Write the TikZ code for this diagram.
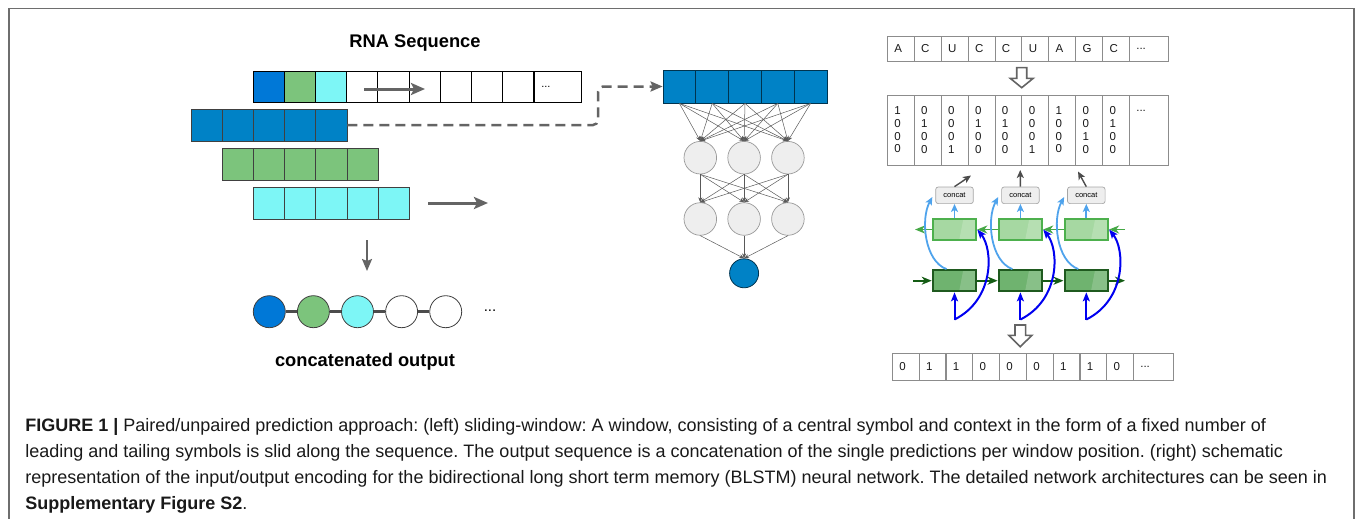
\documentclass[tikz,border=0pt]{standalone}
\usepackage{fontspec}
\setmainfont{Liberation Sans}
\usetikzlibrary{arrows.meta, positioning, calc}

\definecolor{seqblue}{HTML}{0078D7}
\definecolor{winblue}{HTML}{0082C6}
\definecolor{wingreen}{HTML}{7CC47C}
\definecolor{wincyan}{HTML}{7DF6F6}
\definecolor{arrowgray}{HTML}{646464}
\definecolor{framegray}{HTML}{6E6E6E}
\definecolor{cellgray}{HTML}{8C8C8C}
\definecolor{nodegray}{HTML}{EEEEEE}
\definecolor{fwdfill}{HTML}{6FB36F}
\definecolor{fwdline}{HTML}{1F5A1F}
\definecolor{fwdarrow}{HTML}{145C14}
\definecolor{bwdfill}{HTML}{A6D8A2}
\definecolor{bwdline}{HTML}{4DB04D}
\definecolor{bwdarrow}{HTML}{45A845}
\definecolor{skyblue}{HTML}{4FA3EC}
\definecolor{inblue}{HTML}{0000F0}

\begin{document}
\frenchspacing
\begin{tikzpicture}
            [x=1pt, y=-1pt, >={Stealth}, semithick,
            seqcell/.style={draw=black, line width=0.8pt, minimum width=31.2pt, minimum height=31pt, inner sep=0pt},
            wincell/.style={draw=black!75, line width=0.8pt, minimum width=31.2pt, minimum height=32pt, inner sep=0pt},
            outdot/.style={circle, draw=black!75, line width=0.8pt, minimum size=32pt, inner sep=0pt},
            nncell/.style={draw=black!60!winblue, fill=winblue, line width=0.8pt, minimum width=32.8pt, minimum height=33pt, inner sep=0pt},
            neuron/.style={circle, draw=black!40, fill=nodegray, line width=0.7pt, minimum size=32.6pt, inner sep=0pt},
            nnlink/.style={->, draw=black!65, line width=0.5pt, >={Stealth[length=5pt, width=4pt]}},
            slide/.style={->, draw=arrowgray, line width=3pt, >={Stealth[length=14pt, width=12pt, inset=3pt]}},
            drop/.style={->, draw=arrowgray, line width=2pt, >={Stealth[length=12pt, width=10pt, inset=2pt]}},
            chainlink/.style={draw=black!70, line width=3pt},
            dashlink/.style={->, draw=arrowgray, line width=2.5pt, dash pattern=on 10pt off 6pt, rounded corners=5pt, >={Stealth[length=12pt, width=10pt, inset=2pt]}},
            encell/.style={draw=cellgray, line width=0.8pt, minimum height=25pt, inner xsep=7pt, inner ysep=0pt, text width=12.9pt, align=left, text=black!90, font=\fontsize{11.5}{12.7}\selectfont},
            hollow/.style={draw=arrowgray, line width=1.6pt, fill=white, line join=miter},
            highlight/.style={path picture={\fill[white, opacity=0.18] ([xshift=-13pt]path picture bounding box.north east) -- (path picture bounding box.north east) -- (path picture bounding box.south east) -- ([xshift=-17pt]path picture bounding box.south east) -- cycle;}},
            bwdbox/.style={draw=bwdline, fill=bwdfill, line width=2pt, minimum width=43.6pt, minimum height=20.4pt, inner sep=0pt, highlight},
            fwdbox/.style={draw=fwdline, fill=fwdfill, line width=2.2pt, minimum width=43.4pt, minimum height=21pt, inner sep=0pt, highlight},
            concatbox/.style={draw=black!35, fill=nodegray, line width=0.7pt, rounded corners=2.5pt, minimum width=37.6pt, minimum height=16.6pt, inner sep=0pt, font=\fontsize{7.5}{9}\selectfont},
            fwdlink/.style={->, draw=fwdarrow, line width=1.8pt, >={Stealth[length=10pt, width=8pt, inset=3pt]}},
            bwdlink/.style={->, draw=bwdarrow, line width=1.8pt, >={Stealth[length=10pt, width=8pt, inset=3pt]}},
            uplink/.style={->, draw=skyblue, line width=1.8pt, >={Stealth[length=8pt, width=7pt, inset=2pt]}},
            inlink/.style={->, draw=inblue, line width=2pt, >={Stealth[length=9pt, width=7pt, inset=2pt]}},
            catlink/.style={->, draw=black!70, line width=1.4pt, >={Stealth[length=8pt, width=7pt, inset=2pt]}},
            title/.style={font=\fontsize{18.3}{22}\selectfont\bfseries},
            caption/.style={anchor=base west, inner sep=0pt, text=black!90, font=\fontsize{18}{21}\selectfont}]

            \useasboundingbox (0,0) rectangle (1357,519);
            \draw[framegray, line width=1.5pt] (9,519) -- (9,8.5) -- (1354,8.5) -- (1354,519);

            \node[title] (rna) at (415,43) {RNA Sequence};

            \foreach \i/\c in {1/seqblue, 2/wingreen, 3/wincyan, 4/white, 5/white, 6/white, 7/white, 8/white, 9/white}
                \node[seqcell, fill=\c] (s\i) at (237.4+31.2*\i, 86.5) {};
            \node[seqcell, minimum width=46.7pt, text width=32.7pt, inner xsep=7pt, align=left, font=\fontsize{11}{13}\selectfont]
                (s10) at (557.65,86.5) {...};

            \foreach \i in {1,...,5} {
                \node[wincell, fill=winblue]  (wa\i) at (175.4+31.2*\i, 125) {};
                \node[wincell, fill=wingreen] (wb\i) at (206.6+31.2*\i, 164) {};
                \node[wincell, fill=wincyan]  (wc\i) at (237.8+31.2*\i, 203) {};
            }

            \coordinate (slidea) at (364,89);
            \coordinate (slideb) at (425,89);
            \coordinate (movea)  at (428,203);
            \coordinate (moveb)  at (488,203);
            \coordinate (dropa)  at (367,240);
            \coordinate (dropb)  at (367,271);
            \draw[slide] (slidea) -- (slideb);
            \draw[slide] (movea) -- (moveb);
            \draw[drop] (dropa) -- (dropb);

            \foreach \i/\c in {1/seqblue, 2/wingreen, 3/wincyan, 4/white, 5/white}
                \node[outdot, fill=\c] (o\i) at (225.2+44.1*\i, 311.7) {};
            \path (o1) edge[chainlink] (o2)
                  (o2) edge[chainlink] (o3)
                  (o3) edge[chainlink] (o4)
                  (o4) edge[chainlink] (o5);
            \node[font=\fontsize{15}{18}\selectfont] (more) at (490,311) {...};
            \node[title] (concat) at (365,362) {concatenated output};

            \foreach \i in {1,...,5}
                \node[nncell] (n\i) at (646.6+32.8*\i, 86.5) {};
            \foreach \i in {1,2,3} {
                \node[neuron] (h\i) at (656.5+43.8*\i, 157.7) {};
                \node[neuron] (k\i) at (656.5+43.8*\i, 219) {};
            }
            \node[circle, draw=black!60!winblue, fill=winblue, line width=0.8pt, minimum size=29pt, inner sep=0pt] (y) at (744.1,273.3) {};

            \coordinate (bend) at (598,125);
            \draw[dashlink] (wa5.east) -- (bend) |- (n1.west);

            \foreach \i in {1,...,5}
                \foreach \j in {1,2,3}
                    \draw[nnlink] (n\i.south) -- (h\j.north);
            \foreach \i in {1,2,3} {
                \foreach \j in {1,2,3}
                    \draw[nnlink] (h\i.south) -- (k\j.north);
                \draw[nnlink] (k\i.south) -- (y.north);
            }

            \foreach \i/\l in {1/A, 2/C, 3/U, 4/C, 5/C, 6/U, 7/A, 8/G, 9/C}
                \node[encell] (a\i) at (873.85+26.9*\i, 48.5) {\l};
            \node[encell, text width=25pt] (a10) at (1148.8,48.5) {...};

            \foreach \i/\p/\q/\r/\t in {1/1/0/0/0, 2/0/1/0/0, 3/0/0/0/1, 4/0/1/0/0, 5/0/1/0/0, 6/0/0/0/1, 7/1/0/0/0, 8/0/0/1/0, 9/0/1/0/0}
                \node[encell, minimum height=70pt] (m\i) at (873.85+26.9*\i, 130) {\p\\\q\\\r\\\t};
            \node[encell, minimum height=70pt, text width=25pt] (m10) at (1148.8,130) {...\\~\\~\\~};

            \foreach \i/\v in {1/0, 2/1, 3/1, 4/0, 5/0, 6/0, 7/1, 8/1, 9/0}
                \node[encell, minimum height=27.4pt] (r\i) at (878.9+26.8*\i, 367) {\v};
            \node[encell, minimum height=27.4pt, text width=26pt] (r10) at (1153.3,367) {...};

            \coordinate (enca) at (1021.7,67.7);
            \draw[hollow] (enca) ++(-5,0) -- ++(10,0) -- ++(0,10.6) -- ++(6.5,0) -- ++(-11.5,9.4) -- ++(-11.5,-9.4) -- ++(6.5,0) -- cycle;
            \coordinate (encb) at (1020.3,325);
            \draw[hollow] (encb) ++(-5.3,0) -- ++(10.6,0) -- ++(0,10.3) -- ++(6.3,0) -- ++(-11.6,11.4) -- ++(-11.6,-11.4) -- ++(6.3,0) -- cycle;

            \foreach \i in {1,2,3} {
                \node[bwdbox] (b\i) at (888.6+65.9*\i, 229.5) {};
                \node[fwdbox] (f\i) at (888.6+65.9*\i, 280.7) {};
                \node[concatbox] (c\i) at (888.6+65.9*\i, 195.3) {concat};
                \coordinate (in\i) at (888.6+65.9*\i, 319.5);
            }
            \coordinate (fin)  at (913,280.7);
            \coordinate (fout) at (1125,280.7);
            \coordinate (bin)  at (1125,229.5);
            \coordinate (bout) at (915,229.5);
            \coordinate (t1) at (971,175.5);
            \coordinate (t2) at (1020.2,170);
            \coordinate (t3) at (1078,171.5);

            \path (fin) edge[fwdlink] (f1)
                  (f1)  edge[fwdlink] (f2)
                  (f2)  edge[fwdlink] (f3)
                  (f3)  edge[fwdlink] (fout)
                  (bin) edge[bwdlink] (b3)
                  (b3)  edge[bwdlink] (b2)
                  (b2)  edge[bwdlink] (b1)
                  (b1)  edge[bwdlink] (bout)
                  (c1.north) edge[catlink] (t1)
                  (c2.north) edge[catlink] (t2)
                  (c3.north) edge[catlink] (t3);
            \foreach \i in {1,2,3} {
                \draw[uplink] (b\i.north) -- (c\i.south);
                \draw[uplink] ([xshift=-8pt]f\i.north) .. controls +(-22,-8) and +(-12,22) .. ([xshift=-3pt, yshift=-1.7pt]c\i.west);
                \draw[inlink] (in\i) -- (f\i.south);
                \draw[inlink] (in\i) .. controls +(40,-20) and +(16,20) .. (b\i.east);
            }

            \node[caption] (cap1) at (25,431.5) {\textbf{FIGURE 1 |} Paired/unpaired prediction approach: (left) sliding-window: A window, consisting of a central symbol and context in the form of a fixed number of};
            \node[caption] (cap2) at (25,457.5) {leading and tailing symbols is slid along the sequence. The output sequence is a concatenation of the single predictions per window position. (right) schematic};
            \node[caption] (cap3) at (25,483.5) {representation of the input/output encoding for the bidirectional long short term memory (BLSTM) neural network. The detailed network architectures can be seen in};
            \node[caption] (cap4) at (25,509.5) {\textbf{Supplementary Figure S2}.};
        \end{tikzpicture}
\end{document}
